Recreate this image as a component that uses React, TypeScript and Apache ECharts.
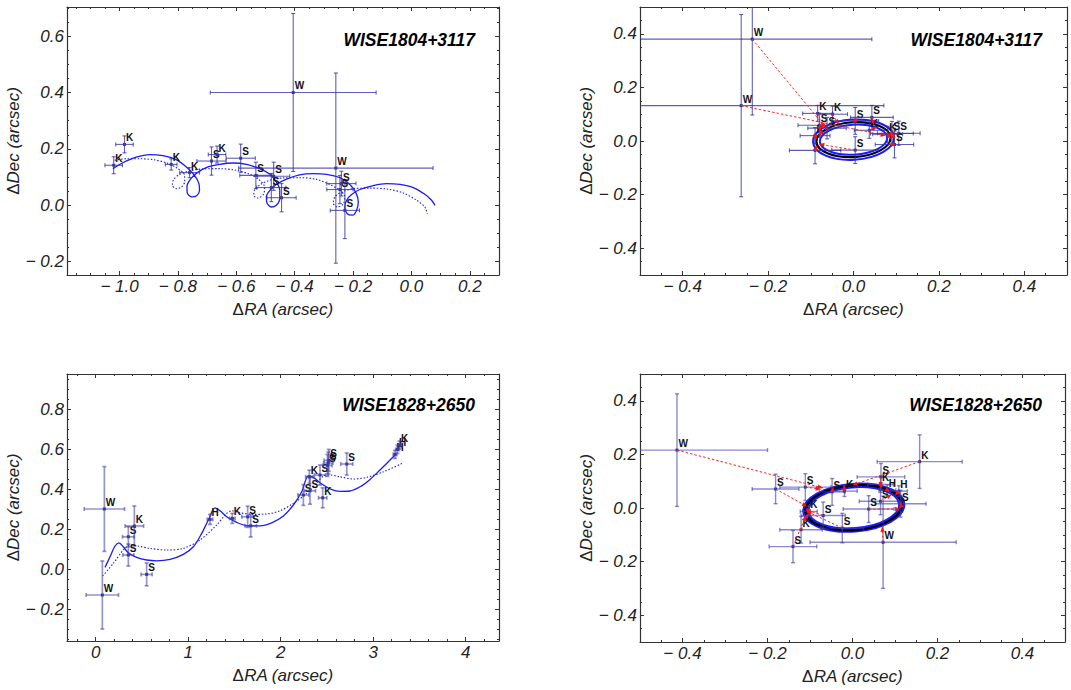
import React, { useEffect, useRef } from 'react';
import * as echarts from 'echarts';

// ---------- Panel 1: WISE1804+3117, relative astrometry ----------
const p1Labels = ['K', 'K', 'K', 'K', 'S', 'K', 'S', 'S', 'S', 'S', 'S', 'W', 'W', 'S', 'S', 'S'];
const p1X = [-0.983, -1.02, -0.823, -0.76, -0.685, -0.666, -0.585, -0.533, -0.472, -0.48, -0.445, -0.405, -0.259, -0.24, -0.245, -0.228];
const p1Y = [0.216, 0.142, 0.145, 0.116, 0.157, 0.18, 0.167, 0.106, 0.103, 0.063, 0.027, 0.4, 0.132, 0.077, 0.056, -0.018];
const p1Ex = [0.03, 0.03, 0.02, 0.034, 0.05, 0.03, 0.05, 0.055, 0.055, 0.05, 0.05, 0.284, 0.333, 0.05, 0.045, 0.05];
const p1Ey = [0.03, 0.03, 0.02, 0.018, 0.05, 0.03, 0.05, 0.047, 0.05, 0.05, 0.05, 0.28, 0.337, 0.044, 0.05, 0.1];
const p1Solid = [[-1.023,0.130],[-0.989,0.151],[-0.943,0.171],[-0.897,0.180],[-0.851,0.176],[-0.806,0.162],[-0.771,0.136],[-0.743,0.106],[-0.728,0.077],[-0.726,0.053],[-0.735,0.035],[-0.752,0.030],[-0.768,0.044],[-0.769,0.067],[-0.758,0.091],[-0.735,0.115],[-0.703,0.134],[-0.657,0.145],[-0.611,0.150],[-0.565,0.145],[-0.520,0.130],[-0.485,0.110],[-0.463,0.083],[-0.451,0.053],[-0.451,0.024],[-0.463,0.000],[-0.480,-0.006],[-0.495,0.008],[-0.497,0.030],[-0.485,0.053],[-0.463,0.074],[-0.428,0.093],[-0.383,0.108],[-0.337,0.112],[-0.291,0.110],[-0.245,0.098],[-0.211,0.074],[-0.190,0.044],[-0.182,0.012],[-0.188,-0.018],[-0.202,-0.035],[-0.220,-0.030],[-0.228,-0.006],[-0.222,0.018],[-0.205,0.038],[-0.177,0.056],[-0.131,0.070],[-0.085,0.077],[-0.039,0.074],[0.006,0.063],[0.046,0.039],[0.069,0.018],[0.081,0.000]];
const p1Dotted = [[-1.017,0.160],[-0.977,0.165],[-0.931,0.165],[-0.886,0.162],[-0.840,0.151],[-0.800,0.130],[-0.777,0.106],[-0.777,0.083],[-0.788,0.065],[-0.806,0.059],[-0.819,0.071],[-0.815,0.091],[-0.794,0.110],[-0.760,0.122],[-0.714,0.129],[-0.657,0.130],[-0.600,0.124],[-0.554,0.110],[-0.520,0.089],[-0.503,0.065],[-0.506,0.041],[-0.525,0.026],[-0.540,0.035],[-0.537,0.056],[-0.517,0.074],[-0.485,0.089],[-0.440,0.097],[-0.383,0.098],[-0.325,0.092],[-0.280,0.074],[-0.245,0.053],[-0.228,0.030],[-0.234,0.004],[-0.254,-0.006],[-0.268,0.008],[-0.262,0.030],[-0.240,0.047],[-0.200,0.059],[-0.142,0.061],[-0.085,0.058],[-0.028,0.044],[0.018,0.018],[0.046,-0.006],[0.054,-0.030]];

// ---------- Panel 2: WISE1804+3117, parallax ellipse ----------
const p2Labels = ['W', 'W', 'K', 'K', 'S', 'S', 'K', 'S', 'S', 'K', 'K', 'S', 'S', 'S', 'S', ''];
const p2X = [-0.237, -0.263, -0.084, -0.049, -0.08, -0.062, -0.09, 0.004, 0.043, 0.037, 0.08, 0.09, 0.106, 0.096, 0.004, -0.09];
const p2Y = [0.38, 0.132, 0.103, 0.1, 0.059, 0.048, 0.02, 0.075, 0.088, 0.04, 0.025, 0.028, 0.029, -0.013, -0.034, -0.035];
const p2Ex = [0.28, 0.334, 0.035, 0.035, 0.05, 0.045, 0.035, 0.055, 0.05, 0.035, 0.035, 0.05, 0.05, 0.045, 0.055, 0.06];
const p2Ey = [0.283, 0.34, 0.03, 0.03, 0.045, 0.04, 0.03, 0.05, 0.045, 0.03, 0.03, 0.045, 0.045, 0.05, 0.05, 0.05];
const p2ModelX = [-0.065, 0.075, -0.07, -0.035, -0.078, -0.082, -0.086, 0.0, 0.048, 0.055, 0.078, 0.082, 0.086, 0.083, -0.08, -0.085];
const p2ModelY = [0.05, 0.02, 0.045, 0.062, 0.035, 0.022, 0.005, 0.068, 0.06, 0.052, 0.03, 0.02, 0.01, -0.01, -0.012, -0.018];
// ellipses: [cx, cy, rx, ry]
const p2Ellipses = [[0, 0.005, 0.095, 0.075], [0, 0.005, 0.087, 0.065], [0, 0.005, 0.079, 0.056]];

// ---------- Panel 3: WISE1828+2650, relative astrometry ----------
const p3Labels = ['W', 'W', 'S', 'K', 'S', 'S', 'H', 'K', 'S', 'S', 'S', 'S', 'K', 'K', 'S', 'S', 'S', 'S', 'S', 'H', 'H', 'K'];
const p3X = [0.094, 0.072, 0.353, 0.418, 0.353, 0.551, 1.236, 1.477, 1.643, 1.676, 2.245, 2.317, 2.31, 2.454, 2.425, 2.505, 2.515, 2.52, 2.714, 3.236, 3.262, 3.285];
const p3Y = [0.302, -0.128, 0.163, 0.217, 0.072, -0.025, 0.25, 0.255, 0.263, 0.218, 0.372, 0.393, 0.463, 0.358, 0.472, 0.52, 0.532, 0.545, 0.527, 0.575, 0.6, 0.622];
const p3Ex = [0.218, 0.175, 0.063, 0.1, 0.06, 0.06, 0.03, 0.03, 0.063, 0.063, 0.06, 0.06, 0.04, 0.045, 0.06, 0.05, 0.05, 0.05, 0.065, 0.02, 0.02, 0.02];
const p3Ey = [0.212, 0.17, 0.05, 0.1, 0.055, 0.057, 0.025, 0.025, 0.053, 0.056, 0.052, 0.067, 0.033, 0.05, 0.05, 0.055, 0.055, 0.055, 0.055, 0.02, 0.02, 0.02];
const p3Solid = [[0.101,0.010],[0.155,0.063],[0.209,0.117],[0.252,0.133],[0.299,0.113],[0.353,0.083],[0.443,0.060],[0.551,0.047],[0.659,0.043],[0.804,0.050],[0.948,0.075],[1.056,0.113],[1.146,0.180],[1.218,0.247],[1.290,0.308],[1.344,0.293],[1.416,0.263],[1.524,0.235],[1.650,0.218],[1.777,0.218],[1.903,0.233],[2.029,0.267],[2.137,0.322],[2.227,0.388],[2.299,0.467],[2.353,0.460],[2.425,0.433],[2.533,0.403],[2.641,0.390],[2.750,0.392],[2.858,0.413],[2.966,0.450],[3.074,0.497],[3.164,0.538],[3.236,0.572]];
const p3Dotted = [[0.076,-0.033],[0.191,0.030],[0.299,0.097],[0.371,0.122],[0.443,0.118],[0.587,0.105],[0.768,0.097],[0.948,0.105],[1.128,0.147],[1.308,0.222],[1.416,0.280],[1.470,0.293],[1.560,0.283],[1.705,0.275],[1.849,0.277],[1.993,0.293],[2.137,0.330],[2.281,0.380],[2.389,0.430],[2.461,0.467],[2.533,0.472],[2.641,0.463],[2.786,0.452],[2.930,0.460],[3.110,0.488],[3.326,0.533]];

// ---------- Panel 4: WISE1828+2650, parallax ellipse ----------
const p4Labels = ['W', 'W', 'K', 'S', 'S', 'S', 'K', 'S', 'K', 'H', 'H', 'S', 'S', 'S', 'K', 'S', 'S', 'K', 'S'];
const p4X = [-0.413, 0.072, 0.158, -0.181, -0.111, -0.048, -0.019, 0.067, 0.066, 0.082, 0.109, 0.066, 0.113, 0.038, -0.103, -0.069, -0.024, -0.121, -0.14];
const p4Y = [0.216, -0.128, 0.173, 0.071, 0.078, 0.06, 0.063, 0.116, 0.088, 0.066, 0.063, 0.025, 0.016, -0.004, -0.013, -0.028, -0.075, -0.081, -0.144];
const p4Ex = [0.213, 0.172, 0.1, 0.055, 0.06, 0.03, 0.03, 0.056, 0.03, 0.02, 0.02, 0.05, 0.06, 0.06, 0.02, 0.052, 0.05, 0.05, 0.056];
const p4Ey = [0.21, 0.172, 0.1, 0.055, 0.05, 0.05, 0.02, 0.05, 0.03, 0.02, 0.02, 0.05, 0.05, 0.05, 0.02, 0.05, 0.055, 0.05, 0.06];
const p4ModelX = [-0.07, 0.07, 0.0, -0.107, -0.075, -0.045, -0.02, 0.066, 0.07, 0.088, 0.1, 0.092, 0.112, 0.112, -0.11, -0.11, -0.108, -0.105, -0.11];
const p4ModelY = [0.075, -0.07, 0.085, 0.006, 0.07, 0.078, 0.085, 0.078, 0.075, 0.06, 0.047, 0.05, 0.02, -0.004, 0.0, -0.006, -0.012, -0.02, -0.03];
const p4Ellipses = [[0.003, 0.001, 0.118, 0.087], [0.003, 0.001, 0.113, 0.082], [0.003, 0.001, 0.107, 0.076]];

const titles = ['WISE1804+3117', 'WISE1804+3117', 'WISE1828+2650', 'WISE1828+2650'];

const FONT = '"Liberation Sans", Arial, Helvetica, sans-serif';

function fmt(step: number, digits: number) {
  return (v: number) => {
    const k = v / step;
    if (Math.abs(k - Math.round(k)) > 1e-6) return '';
    const r = Math.round(k) * step;
    const s = Math.abs(r).toFixed(digits);
    return r < -1e-9 ? '\u2212 ' + s : s;
  };
}

function axes(kind: 'x' | 'y', grid: number, min: number, max: number, step: number, split: number, minorSplit: number, digits: number) {
  const common: any = {
    type: 'value', gridIndex: grid, min, max, splitNumber: split, minInterval: step, maxInterval: step,
    axisLine: { show: true, onZero: false, lineStyle: { color: '#333', width: 1.2 } },
    axisTick: { show: true, inside: true, length: 4, lineStyle: { color: '#333', width: 1 } },
    minorTick: { show: true, splitNumber: minorSplit, length: 2, lineStyle: { color: '#333', width: 1 } },
    splitLine: { show: false }, minorSplitLine: { show: false },
  };
  const nameRich = {
    a: { fontFamily: FONT, fontSize: 17, color: '#222', fontStyle: 'normal' },
    b: { fontFamily: FONT, fontSize: 17, color: '#222', fontStyle: 'italic' },
  };
  const main = {
    ...common,
    position: kind === 'x' ? 'bottom' : 'left',
    axisLabel: { show: true, formatter: fmt(step, digits), fontSize: 17, fontStyle: 'italic', fontFamily: FONT, color: '#222', margin: 3, hideOverlap: false },
    name: kind === 'x' ? '{a|\u0394}{b|RA (arcsec)}' : '{a|\u0394}{b|Dec (arcsec)}',
    nameLocation: 'middle',
    nameGap: kind === 'x' ? 26 : 41,
    nameTextStyle: { rich: nameRich },
  };
  const mirror = { ...common, position: kind === 'x' ? 'top' : 'right', axisLabel: { show: false } };
  return [main, mirror];
}

function errSeries(ax: number, xs: number[], ys: number[], exs: number[], eys: number[], labs: string[], color: string, width: number) {
  return {
    type: 'custom', xAxisIndex: ax, yAxisIndex: ax, clip: true, z: 4,
    data: xs.map((x, i) => [x, ys[i], exs[i], eys[i]]),
    encode: { x: 0, y: 1 },
    renderItem: (params: any, api: any) => {
      const x = api.value(0), y = api.value(1), ex = api.value(2), ey = api.value(3);
      const c = api.coord([x, y]);
      const l = api.coord([x - ex, y]);
      const r = api.coord([x + ex, y]);
      const t = api.coord([x, y + ey]);
      const b = api.coord([x, y - ey]);
      const st = { stroke: color, lineWidth: width };
      const cap = 2;
      const lab = labs[params.dataIndex];
      return {
        type: 'group',
        children: [
          { type: 'line', shape: { x1: l[0], y1: l[1], x2: r[0], y2: r[1] }, style: st },
          { type: 'line', shape: { x1: t[0], y1: t[1], x2: b[0], y2: b[1] }, style: st },
          { type: 'line', shape: { x1: l[0], y1: l[1] - cap, x2: l[0], y2: l[1] + cap }, style: st },
          { type: 'line', shape: { x1: r[0], y1: r[1] - cap, x2: r[0], y2: r[1] + cap }, style: st },
          { type: 'line', shape: { x1: t[0] - cap, y1: t[1], x2: t[0] + cap, y2: t[1] }, style: st },
          { type: 'line', shape: { x1: b[0] - cap, y1: b[1], x2: b[0] + cap, y2: b[1] }, style: st },
          { type: 'rect', shape: { x: c[0] - 1.5, y: c[1] - 1.5, width: 3, height: 3 }, style: { fill: '#3a3a96' } },
          {
            type: 'text', x: c[0] + 1.5, y: c[1] - 1.5,
            style: { text: lab, fill: '#111', fontSize: 10, fontWeight: 'bold', fontFamily: FONT, align: 'left', verticalAlign: 'bottom' },
          },
        ],
      };
    },
  };
}

function modelSeries(ax: number, xs: number[], ys: number[], mxs: number[], mys: number[]) {
  return {
    type: 'custom', xAxisIndex: ax, yAxisIndex: ax, clip: true, z: 5,
    data: xs.map((x, i) => [x, ys[i], mxs[i], mys[i]]),
    encode: { x: [0, 2], y: [1, 3] },
    renderItem: (params: any, api: any) => {
      const p = api.coord([api.value(0), api.value(1)]);
      const m = api.coord([api.value(2), api.value(3)]);
      const dx = m[0] - p[0], dy = m[1] - p[1];
      const L = Math.hypot(dx, dy) || 1;
      const ux = dx / L, uy = dy / L;
      const a = 5, w = 2.2;
      return {
        type: 'group',
        children: [
          { type: 'line', shape: { x1: p[0], y1: p[1], x2: m[0], y2: m[1] }, style: { stroke: '#ff2222', lineWidth: 1, lineDash: [2.5, 2] } },
          {
            type: 'polygon',
            shape: { points: [[m[0], m[1]], [m[0] - ux * a - uy * w, m[1] - uy * a + ux * w], [m[0] - ux * a + uy * w, m[1] - uy * a - ux * w]] },
            style: { fill: '#ff1111' },
          },
        ],
      };
    },
  };
}

function ellipseSeries(ax: number, ells: number[][], colors: string[], widths: number[], rot: number) {
  return {
    type: 'custom', xAxisIndex: ax, yAxisIndex: ax, clip: true, z: 3,
    data: ells,
    encode: { x: 0, y: 1 },
    renderItem: (params: any, api: any) => {
      const c = api.coord([api.value(0), api.value(1)]);
      const s = api.size([api.value(2), api.value(3)]);
      const i = params.dataIndex;
      return {
        type: 'ellipse', x: c[0], y: c[1], rotation: rot,
        shape: { cx: 0, cy: 0, rx: s[0], ry: s[1] },
        style: { fill: 'none', stroke: colors[i], lineWidth: widths[i] },
      };
    },
  };
}

function curve(ax: number, data: number[][], dotted: boolean) {
  return {
    type: 'line', xAxisIndex: ax, yAxisIndex: ax, data, showSymbol: false, symbol: 'none', smooth: 0.3,
    clip: true, z: 2, silent: true,
    lineStyle: { color: '#1c1cf5', width: dotted ? 1.1 : 1.3, type: dotted ? [1.5, 1.8] : 'solid' },
  };
}

export default function App() {
  const ref = useRef<HTMLDivElement>(null);
  useEffect(() => {
    if (!ref.current) return;
    const chart = echarts.init(ref.current, undefined, { renderer: 'svg' });

    const grids = [
      { left: 67, top: 7, width: 432, height: 268 },
      { left: 640, top: 7, width: 427, height: 268 },
      { left: 67, top: 374, width: 432, height: 267 },
      { left: 640, top: 374, width: 425, height: 268 },
    ];

    const x1 = axes('x', 0, -1.18, 0.3, 0.2, 7, 4, 1);
    const y1 = axes('y', 0, -0.247, 0.703, 0.2, 5, 4, 1);
    const x2 = axes('x', 1, -0.5, 0.5, 0.2, 5, 4, 1);
    const y2 = axes('y', 1, -0.5, 0.5, 0.2, 5, 4, 1);
    const x3 = axes('x', 2, -0.31, 4.36, 1, 5, 5, 0);
    const y3 = axes('y', 2, -0.358, 0.977, 0.2, 7, 4, 1);
    const x4 = axes('x', 3, -0.5, 0.5, 0.2, 5, 4, 1);
    const y4 = axes('y', 3, -0.5, 0.5, 0.2, 5, 4, 1);

    const titleStyle = { fontFamily: FONT, fontSize: 17.5, fontWeight: 'bold', fontStyle: 'italic', color: '#000' };

    const option: any = {
      animation: false,
      backgroundColor: '#fff',
      title: [
        { text: titles[0], right: 591, top: 26, textStyle: titleStyle },
        { text: titles[1], right: 24, top: 26, textStyle: titleStyle },
        { text: titles[2], right: 591, top: 391, textStyle: titleStyle },
        { text: titles[3], right: 24, top: 391, textStyle: titleStyle },
      ],
      grid: grids,
      xAxis: [x1[0], x2[0], x3[0], x4[0], x1[1], x2[1], x3[1], x4[1]],
      yAxis: [y1[0], y2[0], y3[0], y4[0], y1[1], y2[1], y3[1], y4[1]],
      series: [
        curve(0, p1Dotted, true),
        curve(0, p1Solid, false),
        errSeries(0, p1X, p1Y, p1Ex, p1Ey, p1Labels, 'rgba(50,50,165,0.78)', 1.1),

        ellipseSeries(1, p2Ellipses, ['#1a1aff', '#000000', '#1a1aff'], [2, 2.2, 2], 0.06),
        errSeries(1, p2X, p2Y, p2Ex, p2Ey, p2Labels, 'rgba(50,50,165,0.78)', 1.1),
        modelSeries(1, p2X, p2Y, p2ModelX, p2ModelY),

        curve(2, p3Dotted, true),
        curve(2, p3Solid, false),
        errSeries(2, p3X, p3Y, p3Ex, p3Ey, p3Labels, 'rgba(60,60,170,0.55)', 1.7),

        ellipseSeries(3, p4Ellipses, ['#1a1aff', '#000000', '#1a1aff'], [3, 3, 2], 0.08),
        errSeries(3, p4X, p4Y, p4Ex, p4Ey, p4Labels, 'rgba(60,60,170,0.6)', 1.4),
        modelSeries(3, p4X, p4Y, p4ModelX, p4ModelY),
      ],
    };
    chart.setOption(option);
    return () => chart.dispose();
  }, []);
  return <div ref={ref} style={{ position: 'absolute', left: 0, top: 0, width: 1071, height: 690, background: '#fff' }} />;
}
